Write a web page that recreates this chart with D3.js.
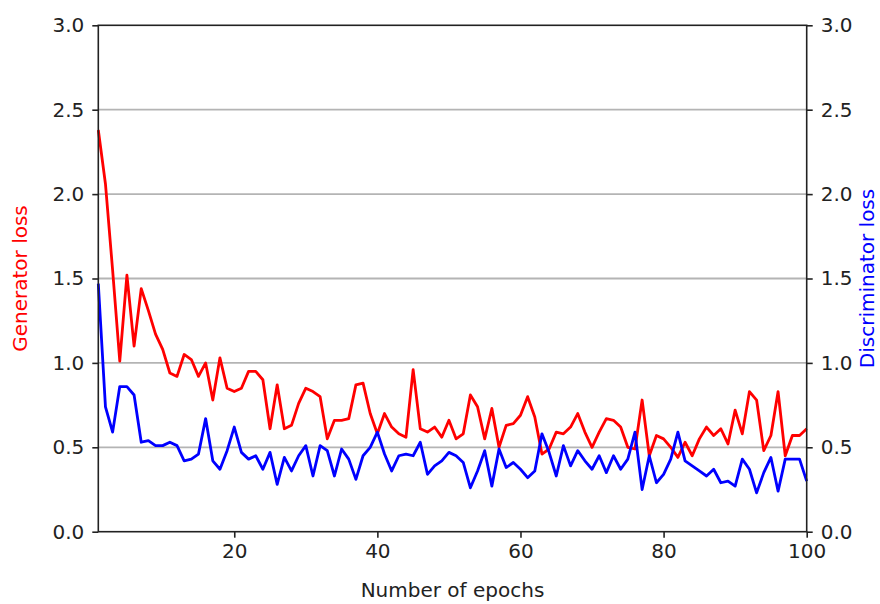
<!DOCTYPE html>
<html>
<head>
<meta charset="utf-8">
<script src="https://cdn.jsdelivr.net/npm/d3@7"></script>
<style>
  html, body { margin: 0; padding: 0; background: #fff; }
  svg { display: block; }
  text { font-family: "DejaVu Sans", sans-serif; }
</style>
</head>
<body>
<svg id="chart" width="880" height="604"></svg>
<script>
// Training losses per epoch
const epochs = d3.range(1, 101);

const generatorLoss = [
  2.38, 2.06, 1.55, 1.01, 1.52, 1.10, 1.44, 1.31, 1.17, 1.08,
  0.94, 0.92, 1.05, 1.02, 0.92, 1.00, 0.78, 1.03, 0.85, 0.83,
  0.85, 0.95, 0.95, 0.90, 0.61, 0.87, 0.61, 0.63, 0.76, 0.85,
  0.83, 0.80, 0.55, 0.66, 0.66, 0.67, 0.87, 0.88, 0.70, 0.58,
  0.70, 0.62, 0.58, 0.56, 0.96, 0.61, 0.59, 0.62, 0.56, 0.66,
  0.55, 0.58, 0.81, 0.74, 0.55, 0.73, 0.50, 0.63, 0.64, 0.69,
  0.80, 0.68, 0.46, 0.49, 0.59, 0.58, 0.62, 0.70, 0.59, 0.50,
  0.59, 0.67, 0.66, 0.62, 0.50, 0.49, 0.78, 0.45, 0.57, 0.55,
  0.50, 0.44, 0.53, 0.45, 0.55, 0.62, 0.57, 0.61, 0.52, 0.72,
  0.58, 0.83, 0.78, 0.48, 0.57, 0.83, 0.45, 0.57, 0.57, 0.61
];

const discriminatorLoss = [
  1.47, 0.74, 0.59, 0.86, 0.86, 0.81, 0.53, 0.54, 0.51, 0.51,
  0.53, 0.51, 0.42, 0.43, 0.46, 0.67, 0.42, 0.37, 0.48, 0.62,
  0.47, 0.43, 0.45, 0.37, 0.47, 0.28, 0.44, 0.36, 0.45, 0.51,
  0.33, 0.51, 0.48, 0.33, 0.49, 0.43, 0.31, 0.45, 0.50, 0.59,
  0.46, 0.36, 0.45, 0.46, 0.45, 0.53, 0.34, 0.39, 0.42, 0.47,
  0.45, 0.41, 0.26, 0.36, 0.48, 0.27, 0.49, 0.38, 0.41, 0.37,
  0.32, 0.36, 0.58, 0.47, 0.33, 0.51, 0.39, 0.48, 0.42, 0.37,
  0.45, 0.35, 0.45, 0.37, 0.43, 0.59, 0.25, 0.45, 0.29, 0.34,
  0.43, 0.59, 0.42, 0.39, 0.36, 0.33, 0.37, 0.29, 0.30, 0.27,
  0.43, 0.37, 0.23, 0.35, 0.44, 0.24, 0.43, 0.43, 0.43, 0.30
];

const xTicks = [20, 40, 60, 80, 100];
const yTicks = [0, 0.5, 1.0, 1.5, 2.0, 2.5, 3.0];
const gridValues = [0.5, 1.0, 1.5, 2.0, 2.5];

const xLabel = "Number of epochs";
const leftLabel = "Generator loss";
const rightLabel = "Discriminator loss";

const svg = d3.select("#chart");
const plot = { left: 98.3, right: 806.7, top: 25.3, bottom: 531.7 };

const x = d3.scaleLinear().domain([1, 100]).range([plot.left, plot.right]);
const yGen = d3.scaleLinear().domain([0, 3]).range([plot.bottom, plot.top]);
const yDisc = d3.scaleLinear().domain([0, 3]).range([plot.bottom, plot.top]);

// horizontal grid
svg.append("g")
  .selectAll("line")
  .data(gridValues)
  .join("line")
  .attr("x1", plot.left).attr("x2", plot.right)
  .attr("y1", d => yGen(d)).attr("y2", d => yGen(d))
  .attr("stroke", "#b4b4b4")
  .attr("stroke-width", 1.8);

// series
const genLine = d3.line().x((d, i) => x(epochs[i])).y(d => yGen(d));
const discLine = d3.line().x((d, i) => x(epochs[i])).y(d => yDisc(d));

svg.append("path")
  .datum(generatorLoss)
  .attr("d", genLine)
  .attr("fill", "none")
  .attr("stroke", "#ff0000")
  .attr("stroke-width", 2.8)
  .attr("stroke-linejoin", "round");

svg.append("path")
  .datum(discriminatorLoss)
  .attr("d", discLine)
  .attr("fill", "none")
  .attr("stroke", "#0000ff")
  .attr("stroke-width", 2.8)
  .attr("stroke-linejoin", "round");

const fmt = d3.format(".1f");
const tickFont = 20;

function styleAxis(g) {
  g.select(".domain").remove();
  g.selectAll(".tick line").attr("stroke", "#222").attr("stroke-width", 1.6);
  g.selectAll(".tick text")
    .attr("fill", "#222")
    .style("font-size", tickFont + "px")
    .style("font-family", "DejaVu Sans, sans-serif");
}

svg.append("g")
  .attr("transform", `translate(${plot.left},0)`)
  .call(d3.axisLeft(yGen).tickValues(yTicks).tickFormat(fmt).tickSize(6).tickPadding(8))
  .call(styleAxis);

svg.append("g")
  .attr("transform", `translate(${plot.right},0)`)
  .call(d3.axisRight(yDisc).tickValues(yTicks).tickFormat(fmt).tickSize(6).tickPadding(8))
  .call(styleAxis);

svg.append("g")
  .attr("transform", `translate(0,${plot.bottom})`)
  .call(d3.axisBottom(x).tickValues(xTicks).tickFormat(d3.format("d")).tickSize(6).tickPadding(6))
  .call(styleAxis);

// frame
svg.append("rect")
  .attr("x", plot.left).attr("y", plot.top)
  .attr("width", plot.right - plot.left).attr("height", plot.bottom - plot.top)
  .attr("fill", "none")
  .attr("stroke", "#222")
  .attr("stroke-width", 1.6);

// axis titles
svg.append("text")
  .attr("x", (plot.left + plot.right) / 2)
  .attr("y", 597)
  .attr("text-anchor", "middle")
  .attr("fill", "#222")
  .style("font-size", "20px")
  .text(xLabel);

svg.append("text")
  .attr("transform", `translate(27,${(plot.top + plot.bottom) / 2}) rotate(-90)`)
  .attr("text-anchor", "middle")
  .attr("fill", "#ff0000")
  .style("font-size", "20px")
  .text(leftLabel);

svg.append("text")
  .attr("transform", `translate(874,${(plot.top + plot.bottom) / 2}) rotate(-90)`)
  .attr("text-anchor", "middle")
  .attr("fill", "#0000ff")
  .style("font-size", "20px")
  .text(rightLabel);
</script>
</body>
</html>
